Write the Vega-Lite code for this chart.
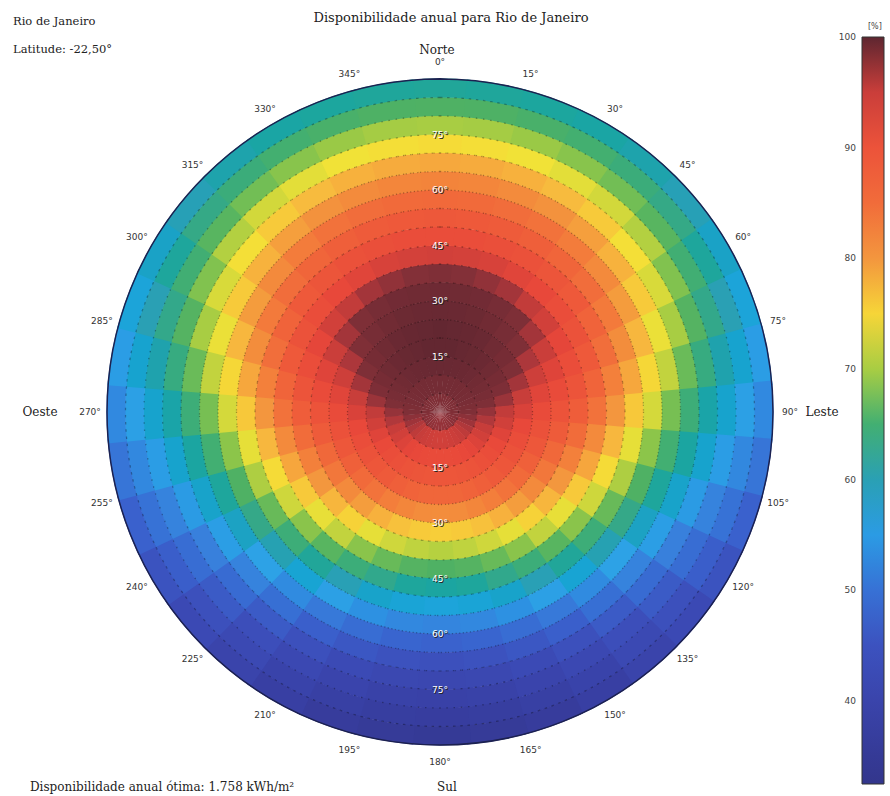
{
"$schema": "https://vega.github.io/schema/vega-lite/v6.json",
"width": 666, "height": 666,
"autosize": {"type": "none"},
"padding": {"left": 107, "top": 79, "right": 117, "bottom": 51},
"background": "white",
"config": {"view": {"stroke": null}, "font": "DejaVu Sans"},
"datasets": {
"cells": [
{"a":0,"t":2.5,"v":97},{"a":10,"t":2.5,"v":97},{"a":20,"t":2.5,"v":97},{"a":30,"t":2.5,"v":97},{"a":40,"t":2.5,"v":97},{"a":50,"t":2.5,"v":97},{"a":60,"t":2.5,"v":97},{"a":70,"t":2.5,"v":97},{"a":80,"t":2.5,"v":97},{"a":90,"t":2.5,"v":97},{"a":100,"t":2.5,"v":96.9},{"a":110,"t":2.5,"v":96.8},{"a":120,"t":2.5,"v":96.8},{"a":130,"t":2.5,"v":96.7},{"a":140,"t":2.5,"v":96.6},{"a":150,"t":2.5,"v":96.6},{"a":160,"t":2.5,"v":96.5},{"a":170,"t":2.5,"v":96.5},{"a":180,"t":2.5,"v":96.5},{"a":190,"t":2.5,"v":96.5},{"a":200,"t":2.5,"v":96.5},{"a":210,"t":2.5,"v":96.6},{"a":220,"t":2.5,"v":96.6},{"a":230,"t":2.5,"v":96.7},{"a":240,"t":2.5,"v":96.8},{"a":250,"t":2.5,"v":96.8},{"a":260,"t":2.5,"v":96.9},{"a":270,"t":2.5,"v":97},{"a":280,"t":2.5,"v":97},{"a":290,"t":2.5,"v":97},{"a":300,"t":2.5,"v":97},{"a":310,"t":2.5,"v":97},{"a":320,"t":2.5,"v":97},{"a":330,"t":2.5,"v":97},{"a":340,"t":2.5,"v":97},{"a":350,"t":2.5,"v":97},
{"a":0,"t":7.5,"v":98},{"a":10,"t":7.5,"v":98},{"a":20,"t":7.5,"v":98},{"a":30,"t":7.5,"v":98},{"a":40,"t":7.5,"v":97.9},{"a":50,"t":7.5,"v":97.8},{"a":60,"t":7.5,"v":97.7},{"a":70,"t":7.5,"v":97.5},{"a":80,"t":7.5,"v":97.3},{"a":90,"t":7.5,"v":97},{"a":100,"t":7.5,"v":96.7},{"a":110,"t":7.5,"v":96.3},{"a":120,"t":7.5,"v":95.9},{"a":130,"t":7.5,"v":95.6},{"a":140,"t":7.5,"v":95.2},{"a":150,"t":7.5,"v":94.9},{"a":160,"t":7.5,"v":94.7},{"a":170,"t":7.5,"v":94.6},{"a":180,"t":7.5,"v":94.5},{"a":190,"t":7.5,"v":94.6},{"a":200,"t":7.5,"v":94.7},{"a":210,"t":7.5,"v":94.9},{"a":220,"t":7.5,"v":95.2},{"a":230,"t":7.5,"v":95.6},{"a":240,"t":7.5,"v":95.9},{"a":250,"t":7.5,"v":96.3},{"a":260,"t":7.5,"v":96.7},{"a":270,"t":7.5,"v":97},{"a":280,"t":7.5,"v":97.3},{"a":290,"t":7.5,"v":97.5},{"a":300,"t":7.5,"v":97.7},{"a":310,"t":7.5,"v":97.8},{"a":320,"t":7.5,"v":97.9},{"a":330,"t":7.5,"v":98},{"a":340,"t":7.5,"v":98},{"a":350,"t":7.5,"v":98},
{"a":0,"t":12.5,"v":99},{"a":10,"t":12.5,"v":99},{"a":20,"t":12.5,"v":98.9},{"a":30,"t":12.5,"v":98.8},{"a":40,"t":12.5,"v":98.6},{"a":50,"t":12.5,"v":98.3},{"a":60,"t":12.5,"v":98},{"a":70,"t":12.5,"v":97.6},{"a":80,"t":12.5,"v":97.1},{"a":90,"t":12.5,"v":96.5},{"a":100,"t":12.5,"v":95.9},{"a":110,"t":12.5,"v":95.2},{"a":120,"t":12.5,"v":94.5},{"a":130,"t":12.5,"v":93.8},{"a":140,"t":12.5,"v":93.2},{"a":150,"t":12.5,"v":92.7},{"a":160,"t":12.5,"v":92.3},{"a":170,"t":12.5,"v":92.1},{"a":180,"t":12.5,"v":92},{"a":190,"t":12.5,"v":92.1},{"a":200,"t":12.5,"v":92.3},{"a":210,"t":12.5,"v":92.7},{"a":220,"t":12.5,"v":93.2},{"a":230,"t":12.5,"v":93.8},{"a":240,"t":12.5,"v":94.5},{"a":250,"t":12.5,"v":95.2},{"a":260,"t":12.5,"v":95.9},{"a":270,"t":12.5,"v":96.5},{"a":280,"t":12.5,"v":97.1},{"a":290,"t":12.5,"v":97.6},{"a":300,"t":12.5,"v":98},{"a":310,"t":12.5,"v":98.3},{"a":320,"t":12.5,"v":98.6},{"a":330,"t":12.5,"v":98.8},{"a":340,"t":12.5,"v":98.9},{"a":350,"t":12.5,"v":99},
{"a":0,"t":17.5,"v":99.5},{"a":10,"t":17.5,"v":99.5},{"a":20,"t":17.5,"v":99.3},{"a":30,"t":17.5,"v":99.1},{"a":40,"t":17.5,"v":98.8},{"a":50,"t":17.5,"v":98.4},{"a":60,"t":17.5,"v":97.8},{"a":70,"t":17.5,"v":97.2},{"a":80,"t":17.5,"v":96.4},{"a":90,"t":17.5,"v":95.5},{"a":100,"t":17.5,"v":94.6},{"a":110,"t":17.5,"v":93.6},{"a":120,"t":17.5,"v":92.6},{"a":130,"t":17.5,"v":91.6},{"a":140,"t":17.5,"v":90.7},{"a":150,"t":17.5,"v":90},{"a":160,"t":17.5,"v":89.5},{"a":170,"t":17.5,"v":89.1},{"a":180,"t":17.5,"v":89},{"a":190,"t":17.5,"v":89.1},{"a":200,"t":17.5,"v":89.5},{"a":210,"t":17.5,"v":90},{"a":220,"t":17.5,"v":90.7},{"a":230,"t":17.5,"v":91.6},{"a":240,"t":17.5,"v":92.6},{"a":250,"t":17.5,"v":93.6},{"a":260,"t":17.5,"v":94.6},{"a":270,"t":17.5,"v":95.5},{"a":280,"t":17.5,"v":96.4},{"a":290,"t":17.5,"v":97.2},{"a":300,"t":17.5,"v":97.8},{"a":310,"t":17.5,"v":98.4},{"a":320,"t":17.5,"v":98.8},{"a":330,"t":17.5,"v":99.1},{"a":340,"t":17.5,"v":99.3},{"a":350,"t":17.5,"v":99.5},
{"a":0,"t":22.5,"v":99.5},{"a":10,"t":22.5,"v":99.4},{"a":20,"t":22.5,"v":99.2},{"a":30,"t":22.5,"v":98.9},{"a":40,"t":22.5,"v":98.4},{"a":50,"t":22.5,"v":97.8},{"a":60,"t":22.5,"v":97.1},{"a":70,"t":22.5,"v":96.2},{"a":80,"t":22.5,"v":95.1},{"a":90,"t":22.5,"v":94},{"a":100,"t":22.5,"v":92.8},{"a":110,"t":22.5,"v":91.6},{"a":120,"t":22.5,"v":90.3},{"a":130,"t":22.5,"v":89.1},{"a":140,"t":22.5,"v":88.1},{"a":150,"t":22.5,"v":87.2},{"a":160,"t":22.5,"v":86.6},{"a":170,"t":22.5,"v":86.1},{"a":180,"t":22.5,"v":86},{"a":190,"t":22.5,"v":86.1},{"a":200,"t":22.5,"v":86.6},{"a":210,"t":22.5,"v":87.2},{"a":220,"t":22.5,"v":88.1},{"a":230,"t":22.5,"v":89.1},{"a":240,"t":22.5,"v":90.3},{"a":250,"t":22.5,"v":91.6},{"a":260,"t":22.5,"v":92.8},{"a":270,"t":22.5,"v":94},{"a":280,"t":22.5,"v":95.1},{"a":290,"t":22.5,"v":96.2},{"a":300,"t":22.5,"v":97.1},{"a":310,"t":22.5,"v":97.8},{"a":320,"t":22.5,"v":98.4},{"a":330,"t":22.5,"v":98.9},{"a":340,"t":22.5,"v":99.2},{"a":350,"t":22.5,"v":99.4},
{"a":0,"t":27.5,"v":99},{"a":10,"t":27.5,"v":98.9},{"a":20,"t":27.5,"v":98.7},{"a":30,"t":27.5,"v":98.3},{"a":40,"t":27.5,"v":97.7},{"a":50,"t":27.5,"v":97},{"a":60,"t":27.5,"v":96},{"a":70,"t":27.5,"v":94.8},{"a":80,"t":27.5,"v":93.5},{"a":90,"t":27.5,"v":92},{"a":100,"t":27.5,"v":90.4},{"a":110,"t":27.5,"v":88.7},{"a":120,"t":27.5,"v":87},{"a":130,"t":27.5,"v":85.4},{"a":140,"t":27.5,"v":83.9},{"a":150,"t":27.5,"v":82.7},{"a":160,"t":27.5,"v":81.8},{"a":170,"t":27.5,"v":81.2},{"a":180,"t":27.5,"v":81},{"a":190,"t":27.5,"v":81.2},{"a":200,"t":27.5,"v":81.8},{"a":210,"t":27.5,"v":82.7},{"a":220,"t":27.5,"v":83.9},{"a":230,"t":27.5,"v":85.4},{"a":240,"t":27.5,"v":87},{"a":250,"t":27.5,"v":88.7},{"a":260,"t":27.5,"v":90.4},{"a":270,"t":27.5,"v":92},{"a":280,"t":27.5,"v":93.5},{"a":290,"t":27.5,"v":94.8},{"a":300,"t":27.5,"v":96},{"a":310,"t":27.5,"v":97},{"a":320,"t":27.5,"v":97.7},{"a":330,"t":27.5,"v":98.3},{"a":340,"t":27.5,"v":98.7},{"a":350,"t":27.5,"v":98.9},
{"a":0,"t":32.5,"v":98.5},{"a":10,"t":32.5,"v":98.4},{"a":20,"t":32.5,"v":98.2},{"a":30,"t":32.5,"v":97.7},{"a":40,"t":32.5,"v":97.1},{"a":50,"t":32.5,"v":96.2},{"a":60,"t":32.5,"v":95},{"a":70,"t":32.5,"v":93.6},{"a":80,"t":32.5,"v":91.9},{"a":90,"t":32.5,"v":90},{"a":100,"t":32.5,"v":87.9},{"a":110,"t":32.5,"v":85.7},{"a":120,"t":32.5,"v":83.5},{"a":130,"t":32.5,"v":81.4},{"a":140,"t":32.5,"v":79.4},{"a":150,"t":32.5,"v":77.8},{"a":160,"t":32.5,"v":76.5},{"a":170,"t":32.5,"v":75.8},{"a":180,"t":32.5,"v":75.5},{"a":190,"t":32.5,"v":75.8},{"a":200,"t":32.5,"v":76.5},{"a":210,"t":32.5,"v":77.8},{"a":220,"t":32.5,"v":79.4},{"a":230,"t":32.5,"v":81.4},{"a":240,"t":32.5,"v":83.5},{"a":250,"t":32.5,"v":85.7},{"a":260,"t":32.5,"v":87.9},{"a":270,"t":32.5,"v":90},{"a":280,"t":32.5,"v":91.9},{"a":290,"t":32.5,"v":93.6},{"a":300,"t":32.5,"v":95},{"a":310,"t":32.5,"v":96.2},{"a":320,"t":32.5,"v":97.1},{"a":330,"t":32.5,"v":97.7},{"a":340,"t":32.5,"v":98.2},{"a":350,"t":32.5,"v":98.4},
{"a":0,"t":37.5,"v":97},{"a":10,"t":37.5,"v":96.9},{"a":20,"t":37.5,"v":96.6},{"a":30,"t":37.5,"v":96.2},{"a":40,"t":37.5,"v":95.5},{"a":50,"t":37.5,"v":94.5},{"a":60,"t":37.5,"v":93.2},{"a":70,"t":37.5,"v":91.6},{"a":80,"t":37.5,"v":89.7},{"a":90,"t":37.5,"v":87.5},{"a":100,"t":37.5,"v":85.1},{"a":110,"t":37.5,"v":82.5},{"a":120,"t":37.5,"v":79.9},{"a":130,"t":37.5,"v":77.4},{"a":140,"t":37.5,"v":75.2},{"a":150,"t":37.5,"v":73.2},{"a":160,"t":37.5,"v":71.7},{"a":170,"t":37.5,"v":70.8},{"a":180,"t":37.5,"v":70.5},{"a":190,"t":37.5,"v":70.8},{"a":200,"t":37.5,"v":71.7},{"a":210,"t":37.5,"v":73.2},{"a":220,"t":37.5,"v":75.2},{"a":230,"t":37.5,"v":77.4},{"a":240,"t":37.5,"v":79.9},{"a":250,"t":37.5,"v":82.5},{"a":260,"t":37.5,"v":85.1},{"a":270,"t":37.5,"v":87.5},{"a":280,"t":37.5,"v":89.7},{"a":290,"t":37.5,"v":91.6},{"a":300,"t":37.5,"v":93.2},{"a":310,"t":37.5,"v":94.5},{"a":320,"t":37.5,"v":95.5},{"a":330,"t":37.5,"v":96.2},{"a":340,"t":37.5,"v":96.6},{"a":350,"t":37.5,"v":96.9},
{"a":0,"t":42.5,"v":94.5},{"a":10,"t":42.5,"v":94.4},{"a":20,"t":42.5,"v":94.1},{"a":30,"t":42.5,"v":93.5},{"a":40,"t":42.5,"v":92.7},{"a":50,"t":42.5,"v":91.6},{"a":60,"t":42.5,"v":90.2},{"a":70,"t":42.5,"v":88.4},{"a":80,"t":42.5,"v":86.4},{"a":90,"t":42.5,"v":84},{"a":100,"t":42.5,"v":81.4},{"a":110,"t":42.5,"v":78.7},{"a":120,"t":42.5,"v":75.9},{"a":130,"t":42.5,"v":73.3},{"a":140,"t":42.5,"v":70.9},{"a":150,"t":42.5,"v":68.9},{"a":160,"t":42.5,"v":67.3},{"a":170,"t":42.5,"v":66.3},{"a":180,"t":42.5,"v":66},{"a":190,"t":42.5,"v":66.3},{"a":200,"t":42.5,"v":67.3},{"a":210,"t":42.5,"v":68.9},{"a":220,"t":42.5,"v":70.9},{"a":230,"t":42.5,"v":73.3},{"a":240,"t":42.5,"v":75.9},{"a":250,"t":42.5,"v":78.7},{"a":260,"t":42.5,"v":81.4},{"a":270,"t":42.5,"v":84},{"a":280,"t":42.5,"v":86.4},{"a":290,"t":42.5,"v":88.4},{"a":300,"t":42.5,"v":90.2},{"a":310,"t":42.5,"v":91.6},{"a":320,"t":42.5,"v":92.7},{"a":330,"t":42.5,"v":93.5},{"a":340,"t":42.5,"v":94.1},{"a":350,"t":42.5,"v":94.4},
{"a":0,"t":47.5,"v":91.5},{"a":10,"t":47.5,"v":91.4},{"a":20,"t":47.5,"v":91},{"a":30,"t":47.5,"v":90.4},{"a":40,"t":47.5,"v":89.4},{"a":50,"t":47.5,"v":88.2},{"a":60,"t":47.5,"v":86.6},{"a":70,"t":47.5,"v":84.7},{"a":80,"t":47.5,"v":82.5},{"a":90,"t":47.5,"v":80},{"a":100,"t":47.5,"v":77.3},{"a":110,"t":47.5,"v":74.5},{"a":120,"t":47.5,"v":71.6},{"a":130,"t":47.5,"v":68.9},{"a":140,"t":47.5,"v":66.5},{"a":150,"t":47.5,"v":64.4},{"a":160,"t":47.5,"v":62.8},{"a":170,"t":47.5,"v":61.8},{"a":180,"t":47.5,"v":61.5},{"a":190,"t":47.5,"v":61.8},{"a":200,"t":47.5,"v":62.8},{"a":210,"t":47.5,"v":64.4},{"a":220,"t":47.5,"v":66.5},{"a":230,"t":47.5,"v":68.9},{"a":240,"t":47.5,"v":71.6},{"a":250,"t":47.5,"v":74.5},{"a":260,"t":47.5,"v":77.3},{"a":270,"t":47.5,"v":80},{"a":280,"t":47.5,"v":82.5},{"a":290,"t":47.5,"v":84.7},{"a":300,"t":47.5,"v":86.6},{"a":310,"t":47.5,"v":88.2},{"a":320,"t":47.5,"v":89.4},{"a":330,"t":47.5,"v":90.4},{"a":340,"t":47.5,"v":91},{"a":350,"t":47.5,"v":91.4},
{"a":0,"t":52.5,"v":88.5},{"a":10,"t":52.5,"v":88.4},{"a":20,"t":52.5,"v":87.9},{"a":30,"t":52.5,"v":87.2},{"a":40,"t":52.5,"v":86.2},{"a":50,"t":52.5,"v":84.8},{"a":60,"t":52.5,"v":83.1},{"a":70,"t":52.5,"v":81},{"a":80,"t":52.5,"v":78.6},{"a":90,"t":52.5,"v":76},{"a":100,"t":52.5,"v":73.2},{"a":110,"t":52.5,"v":70.2},{"a":120,"t":52.5,"v":67.3},{"a":130,"t":52.5,"v":64.5},{"a":140,"t":52.5,"v":62},{"a":150,"t":52.5,"v":59.9},{"a":160,"t":52.5,"v":58.3},{"a":170,"t":52.5,"v":57.3},{"a":180,"t":52.5,"v":57},{"a":190,"t":52.5,"v":57.3},{"a":200,"t":52.5,"v":58.3},{"a":210,"t":52.5,"v":59.9},{"a":220,"t":52.5,"v":62},{"a":230,"t":52.5,"v":64.5},{"a":240,"t":52.5,"v":67.3},{"a":250,"t":52.5,"v":70.2},{"a":260,"t":52.5,"v":73.2},{"a":270,"t":52.5,"v":76},{"a":280,"t":52.5,"v":78.6},{"a":290,"t":52.5,"v":81},{"a":300,"t":52.5,"v":83.1},{"a":310,"t":52.5,"v":84.8},{"a":320,"t":52.5,"v":86.2},{"a":330,"t":52.5,"v":87.2},{"a":340,"t":52.5,"v":87.9},{"a":350,"t":52.5,"v":88.4},
{"a":0,"t":57.5,"v":85.5},{"a":10,"t":57.5,"v":85.3},{"a":20,"t":57.5,"v":84.9},{"a":30,"t":57.5,"v":84},{"a":40,"t":57.5,"v":82.9},{"a":50,"t":57.5,"v":81.4},{"a":60,"t":57.5,"v":79.5},{"a":70,"t":57.5,"v":77.3},{"a":80,"t":57.5,"v":74.8},{"a":90,"t":57.5,"v":72},{"a":100,"t":57.5,"v":69},{"a":110,"t":57.5,"v":66},{"a":120,"t":57.5,"v":63},{"a":130,"t":57.5,"v":60.2},{"a":140,"t":57.5,"v":57.6},{"a":150,"t":57.5,"v":55.5},{"a":160,"t":57.5,"v":53.8},{"a":170,"t":57.5,"v":52.8},{"a":180,"t":57.5,"v":52.5},{"a":190,"t":57.5,"v":52.8},{"a":200,"t":57.5,"v":53.8},{"a":210,"t":57.5,"v":55.5},{"a":220,"t":57.5,"v":57.6},{"a":230,"t":57.5,"v":60.2},{"a":240,"t":57.5,"v":63},{"a":250,"t":57.5,"v":66},{"a":260,"t":57.5,"v":69},{"a":270,"t":57.5,"v":72},{"a":280,"t":57.5,"v":74.8},{"a":290,"t":57.5,"v":77.3},{"a":300,"t":57.5,"v":79.5},{"a":310,"t":57.5,"v":81.4},{"a":320,"t":57.5,"v":82.9},{"a":330,"t":57.5,"v":84},{"a":340,"t":57.5,"v":84.9},{"a":350,"t":57.5,"v":85.3},
{"a":0,"t":62.5,"v":82},{"a":10,"t":62.5,"v":81.8},{"a":20,"t":62.5,"v":81.3},{"a":30,"t":62.5,"v":80.5},{"a":40,"t":62.5,"v":79.3},{"a":50,"t":62.5,"v":77.7},{"a":60,"t":62.5,"v":75.8},{"a":70,"t":62.5,"v":73.5},{"a":80,"t":62.5,"v":70.9},{"a":90,"t":62.5,"v":68},{"a":100,"t":62.5,"v":65},{"a":110,"t":62.5,"v":61.8},{"a":120,"t":62.5,"v":58.8},{"a":130,"t":62.5,"v":55.8},{"a":140,"t":62.5,"v":53.2},{"a":150,"t":62.5,"v":51},{"a":160,"t":62.5,"v":49.4},{"a":170,"t":62.5,"v":48.4},{"a":180,"t":62.5,"v":48},{"a":190,"t":62.5,"v":48.4},{"a":200,"t":62.5,"v":49.4},{"a":210,"t":62.5,"v":51},{"a":220,"t":62.5,"v":53.2},{"a":230,"t":62.5,"v":55.8},{"a":240,"t":62.5,"v":58.8},{"a":250,"t":62.5,"v":61.8},{"a":260,"t":62.5,"v":65},{"a":270,"t":62.5,"v":68},{"a":280,"t":62.5,"v":70.9},{"a":290,"t":62.5,"v":73.5},{"a":300,"t":62.5,"v":75.8},{"a":310,"t":62.5,"v":77.7},{"a":320,"t":62.5,"v":79.3},{"a":330,"t":62.5,"v":80.5},{"a":340,"t":62.5,"v":81.3},{"a":350,"t":62.5,"v":81.8},
{"a":0,"t":67.5,"v":78.5},{"a":10,"t":67.5,"v":78.3},{"a":20,"t":67.5,"v":77.8},{"a":30,"t":67.5,"v":77},{"a":40,"t":67.5,"v":75.8},{"a":50,"t":67.5,"v":74.2},{"a":60,"t":67.5,"v":72.3},{"a":70,"t":67.5,"v":70},{"a":80,"t":67.5,"v":67.4},{"a":90,"t":67.5,"v":64.5},{"a":100,"t":67.5,"v":61.5},{"a":110,"t":67.5,"v":58.3},{"a":120,"t":67.5,"v":55.3},{"a":130,"t":67.5,"v":52.3},{"a":140,"t":67.5,"v":49.7},{"a":150,"t":67.5,"v":47.5},{"a":160,"t":67.5,"v":45.9},{"a":170,"t":67.5,"v":44.9},{"a":180,"t":67.5,"v":44.5},{"a":190,"t":67.5,"v":44.9},{"a":200,"t":67.5,"v":45.9},{"a":210,"t":67.5,"v":47.5},{"a":220,"t":67.5,"v":49.7},{"a":230,"t":67.5,"v":52.3},{"a":240,"t":67.5,"v":55.3},{"a":250,"t":67.5,"v":58.3},{"a":260,"t":67.5,"v":61.5},{"a":270,"t":67.5,"v":64.5},{"a":280,"t":67.5,"v":67.4},{"a":290,"t":67.5,"v":70},{"a":300,"t":67.5,"v":72.3},{"a":310,"t":67.5,"v":74.2},{"a":320,"t":67.5,"v":75.8},{"a":330,"t":67.5,"v":77},{"a":340,"t":67.5,"v":77.8},{"a":350,"t":67.5,"v":78.3},
{"a":0,"t":72.5,"v":74.5},{"a":10,"t":72.5,"v":74.3},{"a":20,"t":72.5,"v":73.9},{"a":30,"t":72.5,"v":73},{"a":40,"t":72.5,"v":71.9},{"a":50,"t":72.5,"v":70.4},{"a":60,"t":72.5,"v":68.5},{"a":70,"t":72.5,"v":66.3},{"a":80,"t":72.5,"v":63.8},{"a":90,"t":72.5,"v":61},{"a":100,"t":72.5,"v":58},{"a":110,"t":72.5,"v":55},{"a":120,"t":72.5,"v":52},{"a":130,"t":72.5,"v":49.2},{"a":140,"t":72.5,"v":46.6},{"a":150,"t":72.5,"v":44.5},{"a":160,"t":72.5,"v":42.8},{"a":170,"t":72.5,"v":41.8},{"a":180,"t":72.5,"v":41.5},{"a":190,"t":72.5,"v":41.8},{"a":200,"t":72.5,"v":42.8},{"a":210,"t":72.5,"v":44.5},{"a":220,"t":72.5,"v":46.6},{"a":230,"t":72.5,"v":49.2},{"a":240,"t":72.5,"v":52},{"a":250,"t":72.5,"v":55},{"a":260,"t":72.5,"v":58},{"a":270,"t":72.5,"v":61},{"a":280,"t":72.5,"v":63.8},{"a":290,"t":72.5,"v":66.3},{"a":300,"t":72.5,"v":68.5},{"a":310,"t":72.5,"v":70.4},{"a":320,"t":72.5,"v":71.9},{"a":330,"t":72.5,"v":73},{"a":340,"t":72.5,"v":73.9},{"a":350,"t":72.5,"v":74.3},
{"a":0,"t":77.5,"v":70},{"a":10,"t":77.5,"v":69.9},{"a":20,"t":77.5,"v":69.5},{"a":30,"t":77.5,"v":68.8},{"a":40,"t":77.5,"v":67.8},{"a":50,"t":77.5,"v":66.5},{"a":60,"t":77.5,"v":64.9},{"a":70,"t":77.5,"v":62.9},{"a":80,"t":77.5,"v":60.6},{"a":90,"t":77.5,"v":58},{"a":100,"t":77.5,"v":55.2},{"a":110,"t":77.5,"v":52.3},{"a":120,"t":77.5,"v":49.4},{"a":130,"t":77.5,"v":46.6},{"a":140,"t":77.5,"v":44.1},{"a":150,"t":77.5,"v":42},{"a":160,"t":77.5,"v":40.3},{"a":170,"t":77.5,"v":39.3},{"a":180,"t":77.5,"v":39},{"a":190,"t":77.5,"v":39.3},{"a":200,"t":77.5,"v":40.3},{"a":210,"t":77.5,"v":42},{"a":220,"t":77.5,"v":44.1},{"a":230,"t":77.5,"v":46.6},{"a":240,"t":77.5,"v":49.4},{"a":250,"t":77.5,"v":52.3},{"a":260,"t":77.5,"v":55.2},{"a":270,"t":77.5,"v":58},{"a":280,"t":77.5,"v":60.6},{"a":290,"t":77.5,"v":62.9},{"a":300,"t":77.5,"v":64.9},{"a":310,"t":77.5,"v":66.5},{"a":320,"t":77.5,"v":67.8},{"a":330,"t":77.5,"v":68.8},{"a":340,"t":77.5,"v":69.5},{"a":350,"t":77.5,"v":69.9},
{"a":0,"t":82.5,"v":66},{"a":10,"t":82.5,"v":65.9},{"a":20,"t":82.5,"v":65.6},{"a":30,"t":82.5,"v":65.1},{"a":40,"t":82.5,"v":64.3},{"a":50,"t":82.5,"v":63.2},{"a":60,"t":82.5,"v":61.8},{"a":70,"t":82.5,"v":60},{"a":80,"t":82.5,"v":57.9},{"a":90,"t":82.5,"v":55.5},{"a":100,"t":82.5,"v":52.9},{"a":110,"t":82.5,"v":50.1},{"a":120,"t":82.5,"v":47.3},{"a":130,"t":82.5,"v":44.5},{"a":140,"t":82.5,"v":42.1},{"a":150,"t":82.5,"v":39.9},{"a":160,"t":82.5,"v":38.3},{"a":170,"t":82.5,"v":37.3},{"a":180,"t":82.5,"v":37},{"a":190,"t":82.5,"v":37.3},{"a":200,"t":82.5,"v":38.3},{"a":210,"t":82.5,"v":39.9},{"a":220,"t":82.5,"v":42.1},{"a":230,"t":82.5,"v":44.5},{"a":240,"t":82.5,"v":47.3},{"a":250,"t":82.5,"v":50.1},{"a":260,"t":82.5,"v":52.9},{"a":270,"t":82.5,"v":55.5},{"a":280,"t":82.5,"v":57.9},{"a":290,"t":82.5,"v":60},{"a":300,"t":82.5,"v":61.8},{"a":310,"t":82.5,"v":63.2},{"a":320,"t":82.5,"v":64.3},{"a":330,"t":82.5,"v":65.1},{"a":340,"t":82.5,"v":65.6},{"a":350,"t":82.5,"v":65.9},
{"a":0,"t":87.5,"v":62},{"a":10,"t":87.5,"v":61.9},{"a":20,"t":87.5,"v":61.7},{"a":30,"t":87.5,"v":61.3},{"a":40,"t":87.5,"v":60.7},{"a":50,"t":87.5,"v":59.8},{"a":60,"t":87.5,"v":58.6},{"a":70,"t":87.5,"v":57.1},{"a":80,"t":87.5,"v":55.2},{"a":90,"t":87.5,"v":53},{"a":100,"t":87.5,"v":50.5},{"a":110,"t":87.5,"v":47.9},{"a":120,"t":87.5,"v":45.1},{"a":130,"t":87.5,"v":42.5},{"a":140,"t":87.5,"v":40},{"a":150,"t":87.5,"v":37.9},{"a":160,"t":87.5,"v":36.3},{"a":170,"t":87.5,"v":35.3},{"a":180,"t":87.5,"v":35},{"a":190,"t":87.5,"v":35.3},{"a":200,"t":87.5,"v":36.3},{"a":210,"t":87.5,"v":37.9},{"a":220,"t":87.5,"v":40},{"a":230,"t":87.5,"v":42.5},{"a":240,"t":87.5,"v":45.1},{"a":250,"t":87.5,"v":47.9},{"a":260,"t":87.5,"v":50.5},{"a":270,"t":87.5,"v":53},{"a":280,"t":87.5,"v":55.2},{"a":290,"t":87.5,"v":57.1},{"a":300,"t":87.5,"v":58.6},{"a":310,"t":87.5,"v":59.8},{"a":320,"t":87.5,"v":60.7},{"a":330,"t":87.5,"v":61.3},{"a":340,"t":87.5,"v":61.7},{"a":350,"t":87.5,"v":61.9}
],
"azlab": [
{"a":0,"lab":"0°"},{"a":15,"lab":"15°"},{"a":30,"lab":"30°"},{"a":45,"lab":"45°"},{"a":60,"lab":"60°"},{"a":75,"lab":"75°"},{"a":90,"lab":"90°"},{"a":105,"lab":"105°"},{"a":120,"lab":"120°"},{"a":135,"lab":"135°"},{"a":150,"lab":"150°"},{"a":165,"lab":"165°"},{"a":180,"lab":"180°"},{"a":195,"lab":"195°"},{"a":210,"lab":"210°"},{"a":225,"lab":"225°"},{"a":240,"lab":"240°"},{"a":255,"lab":"255°"},{"a":270,"lab":"270°"},{"a":285,"lab":"285°"},{"a":300,"lab":"300°"},{"a":315,"lab":"315°"},{"a":330,"lab":"330°"},{"a":345,"lab":"345°"}
],
"tiltlab": [
{"a":0,"t":15,"lab":"15°"},{"a":0,"t":30,"lab":"30°"},{"a":0,"t":45,"lab":"45°"},{"a":0,"t":60,"lab":"60°"},{"a":0,"t":75,"lab":"75°"},
{"a":180,"t":15,"lab":"15°"},{"a":180,"t":30,"lab":"30°"},{"a":180,"t":45,"lab":"45°"},{"a":180,"t":60,"lab":"60°"},{"a":180,"t":75,"lab":"75°"}
],
"rings": [{"r":5},{"r":10},{"r":15},{"r":20},{"r":25},{"r":30},{"r":35},{"r":40},{"r":45},{"r":50},{"r":55},{"r":60},{"r":65},{"r":70},{"r":75},{"r":80},{"r":85}],
"outer": [{"r":90}]
},
"layer": [
{
"data": {"name": "cells"},
"transform": [
{"calculate": "datum.a - 5.4", "as": "a0"},
{"calculate": "datum.a + 5.4", "as": "a1"},
{"calculate": "datum.t - 2.5", "as": "t0"},
{"calculate": "datum.t + 2.65", "as": "t1"}
],
"mark": {"type": "arc"},
"encoding": {
"theta": {"field": "a0", "type": "quantitative", "stack": null, "scale": {"type": "linear", "domain": [0, 360], "range": [0, 6.283185307179586]}},
"theta2": {"field": "a1"},
"radius": {"field": "t1", "type": "quantitative", "scale": {"type": "linear", "domain": [0, 90], "range": [0, 333], "zero": true}},
"radius2": {"field": "t0"},
"color": {"field": "v", "type": "quantitative",
"scale": {"domain": [32.5, 38, 44, 48, 52, 56, 60, 63, 66, 69, 71, 74, 77, 80, 84, 88, 93, 95.5, 97, 100],
"range": ["#33368c", "#383fa3", "#3c4dba", "#3a62cd", "#3880dc", "#2ea4e6", "#2aa0b4", "#35a888", "#4fb164", "#8cc54a", "#c5d43e", "#f3e237", "#f7bb3e", "#f3963e", "#f2723b", "#ee5a3a", "#e8473a", "#c23c3a", "#7f2f37", "#5e2630"]},
"legend": {"type": "gradient", "title": "[%]", "orient": "none", "legendX": 755, "legendY": -56, "direction": "vertical", "gradientLength": 747, "gradientThickness": 22, "values": [40, 50, 60, 70, 80, 90, 100], "labelOffset": -28, "labelFontSize": 9, "labelColor": "#444", "labelOverlap": false, "titleFontSize": 8, "titleFontWeight": "normal", "titleColor": "#444", "titlePadding": 6, "titleAnchor": "start", "gradientStrokeColor": "#333", "gradientStrokeWidth": 1, "padding": 0,
"encode": {"labels": {"update": {"align": {"value": "right"}, "baseline": {"value": "middle"}}}, "title": {"update": {"dx": {"value": 6}}}}}}
}
},
{
"data": {"name": "rings"},
"mark": {"type": "arc", "theta": 0, "theta2": 6.2832, "filled": false, "stroke": "#000", "strokeOpacity": 0.3, "strokeWidth": 1.3, "strokeDash": [1.2, 6]},
"encoding": {
"radius": {"field": "r", "type": "quantitative", "scale": {"type": "linear", "domain": [0, 90], "range": [0, 333], "zero": true}},
"radius2": {"field": "r"}
}
},
{
"data": {"name": "outer"},
"mark": {"type": "arc", "theta": 0, "theta2": 6.2832, "filled": false, "stroke": "#1c2150", "strokeWidth": 1.5},
"encoding": {
"radius": {"field": "r", "type": "quantitative", "scale": {"type": "linear", "domain": [0, 90], "range": [0, 333], "zero": true}},
"radius2": {"field": "r"}
}
},
{
"data": {"name": "azlab"},
"mark": {"type": "text", "fontSize": 9, "fill": "#333", "align": "center", "baseline": "middle"},
"encoding": {
"theta": {"field": "a", "type": "quantitative", "stack": null},
"radius": {"value": 350},
"text": {"field": "lab"}
}
},
{
"data": {"name": "tiltlab"},
"mark": {"type": "text", "fontSize": 9, "fill": "#222", "dx": 1, "dy": 1, "align": "center", "baseline": "middle"},
"encoding": {
"theta": {"field": "a", "type": "quantitative", "stack": null},
"radius": {"field": "t", "type": "quantitative"},
"text": {"field": "lab"}
}
},
{
"data": {"name": "tiltlab"},
"mark": {"type": "text", "fontSize": 9, "fill": "#ffffff", "align": "center", "baseline": "middle"},
"encoding": {
"theta": {"field": "a", "type": "quantitative", "stack": null},
"radius": {"field": "t", "type": "quantitative"},
"text": {"field": "lab"}
}
},
{
"data": {"values": [{}]},
"mark": {"type": "text", "text": "Disponibilidade anual para Rio de Janeiro", "font": "DejaVu Serif", "fontSize": 13, "fill": "#222", "align": "center", "baseline": "middle"},
"encoding": {"x": {"value": 344}, "y": {"value": -61}}
},
{
"data": {"values": [{}]},
"mark": {"type": "text", "text": "Rio de Janeiro", "font": "DejaVu Serif", "fontSize": 11.5, "fill": "#222", "align": "left", "baseline": "middle"},
"encoding": {"x": {"value": -94}, "y": {"value": -57}}
},
{
"data": {"values": [{}]},
"mark": {"type": "text", "text": "Latitude: -22,50°", "font": "DejaVu Serif", "fontSize": 11.5, "fill": "#222", "align": "left", "baseline": "middle"},
"encoding": {"x": {"value": -94}, "y": {"value": -29}}
},
{
"data": {"values": [{}]},
"mark": {"type": "text", "text": "Norte", "font": "DejaVu Serif", "fontSize": 12, "fill": "#222", "align": "center", "baseline": "middle"},
"encoding": {"x": {"value": 330}, "y": {"value": -29}}
},
{
"data": {"values": [{}]},
"mark": {"type": "text", "text": "Sul", "font": "DejaVu Serif", "fontSize": 12, "fill": "#222", "align": "center", "baseline": "middle"},
"encoding": {"x": {"value": 340}, "y": {"value": 708}}
},
{
"data": {"values": [{}]},
"mark": {"type": "text", "text": "Oeste", "font": "DejaVu Serif", "fontSize": 12, "fill": "#222", "align": "center", "baseline": "middle"},
"encoding": {"x": {"value": -67}, "y": {"value": 333}}
},
{
"data": {"values": [{}]},
"mark": {"type": "text", "text": "Leste", "font": "DejaVu Serif", "fontSize": 12, "fill": "#222", "align": "center", "baseline": "middle"},
"encoding": {"x": {"value": 715}, "y": {"value": 333}}
},
{
"data": {"values": [{}]},
"mark": {"type": "text", "text": "Disponibilidade anual ótima: 1.758 kWh/m²", "font": "DejaVu Serif", "fontSize": 12, "fill": "#222", "align": "left", "baseline": "middle"},
"encoding": {"x": {"value": -77}, "y": {"value": 708}}
}
]
}
